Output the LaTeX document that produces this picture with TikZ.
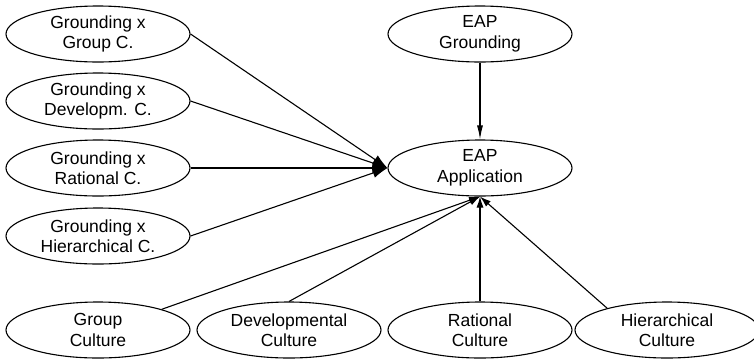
\documentclass[tikz,border=0pt]{standalone}
\usepackage{fontspec}
\setmainfont{Liberation Sans}
\usetikzlibrary{shapes.geometric,arrows.meta}
\begin{document}
\begin{tikzpicture}[x=1pt,y=-1pt,
  oval/.style={draw, ellipse, line width=1.1pt, minimum width=184pt, minimum height=56pt,
    inner sep=0pt, align=center, font=\fontsize{17.5}{20.5}\selectfont},
  conn/.style={line width=1.1pt},
  bighead/.style={conn, -{Latex[length=15pt,width=10pt]}},
  smallhead/.style={conn, -{Latex[length=14pt,width=6pt]}},
  midhead/.style={conn, -{Latex[length=11pt,width=7pt]}}]
\useasboundingbox (0,0) rectangle (754,360);
\node[oval] (g1) at (98,34) {Grounding x\\Group  C.};
\node[oval] (g2) at (98,101) {Grounding x\\Developm. C.};
\node[oval] (g3) at (98,168) {Grounding x\\Rational C.};
\node[oval] (g4) at (98,236) {Grounding x\\Hierarchical C.};
\node[oval] (eg) at (480,34) {EAP\\Grounding};
\node[oval] (app) at (480,168) {EAP\\Application};
\node[oval] (gc) at (98,330) {Group\\Culture};
\node[oval] (dc) at (289,330) {Developmental\\Culture};
\node[oval] (rc) at (480,330) {Rational\\Culture};
\node[oval] (hc) at (667,330) {Hierarchical\\Culture};
\draw[bighead] (g1.east) -- (app.west);
\draw[bighead] (g2.east) -- (app.west);
\draw[bighead] (g3.east) -- (app.west);
\draw[bighead] (g4.east) -- (app.west);
\draw[smallhead] (eg.south) -- (app.north);
\draw[midhead] (gc.18) -- (app.south);
\draw[midhead] (dc.north) -- (app.south);
\draw[midhead] (rc.north) -- (app.south);
\draw[midhead] (hc.160) -- (app.south);
\end{tikzpicture}
\end{document}
